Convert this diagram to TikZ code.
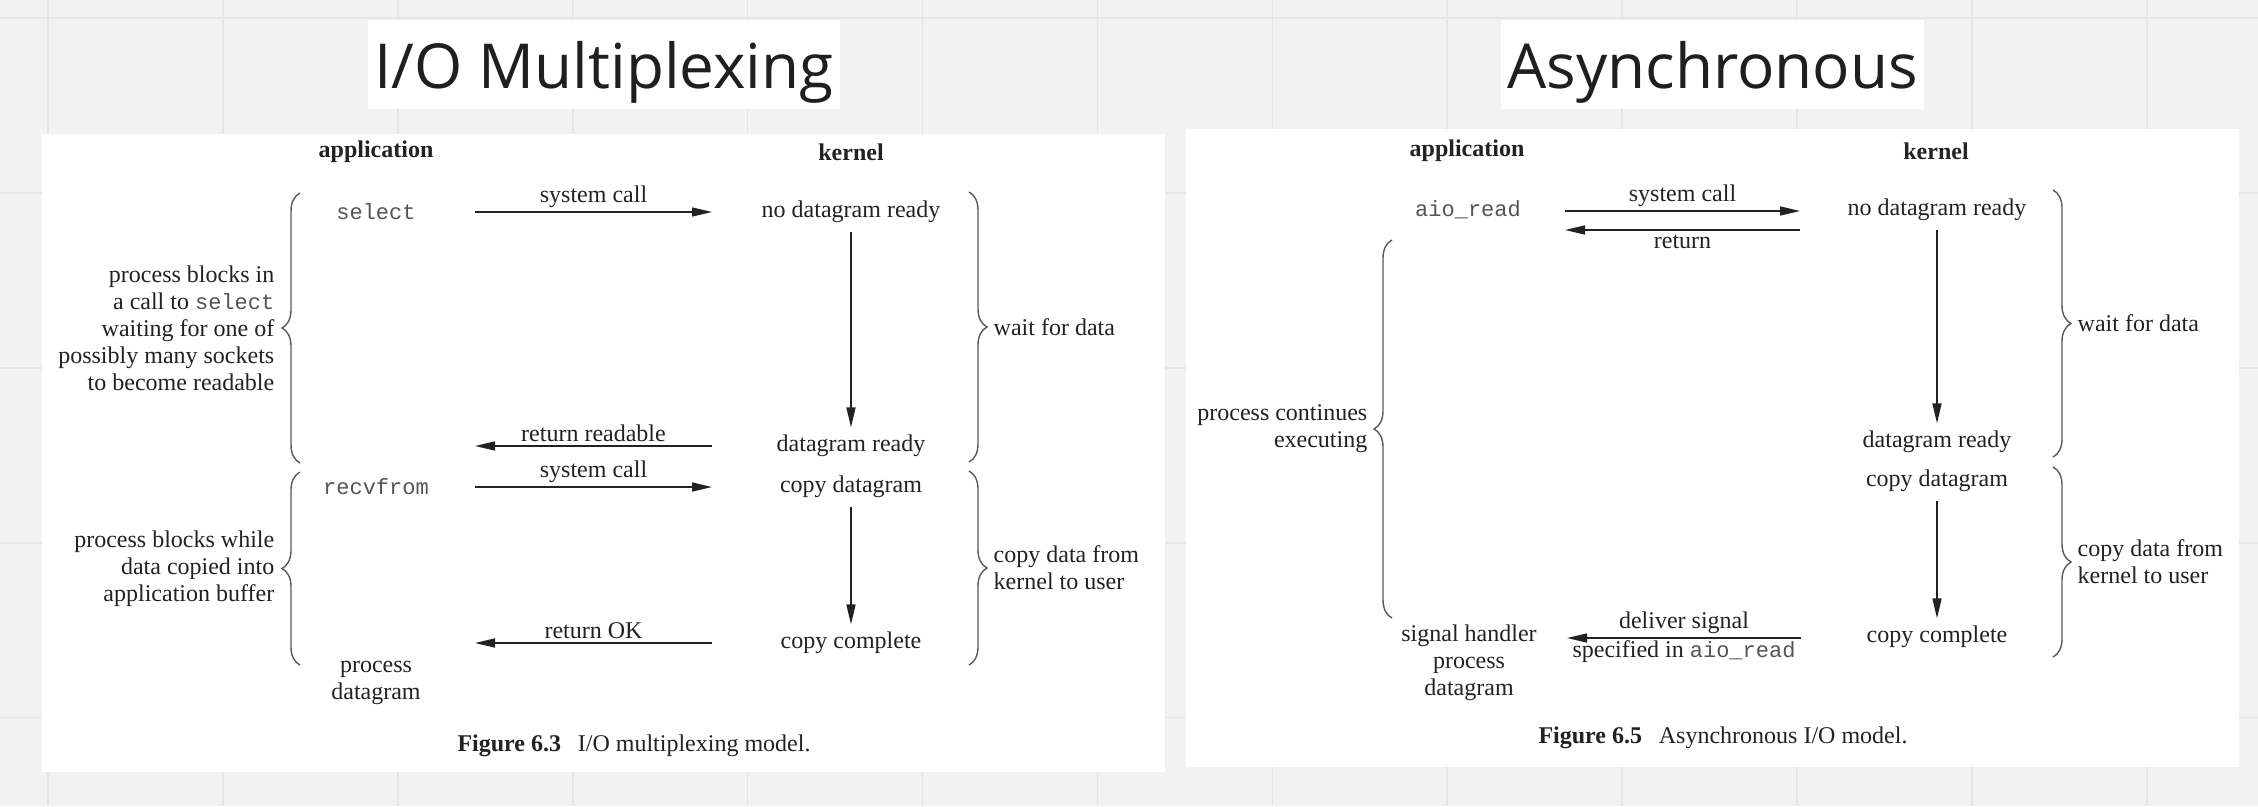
\documentclass[tikz,border=0pt]{standalone}
\usepackage{fontspec}
\setmainfont{Liberation Serif}
\setmonofont{Liberation Mono}
\newfontfamily\titlefont{Open Sans}
\definecolor{boardgray}{RGB}{242,242,242}
\definecolor{gridgray}{RGB}{229,229,229}
\definecolor{inkgray}{RGB}{34,34,34}
\definecolor{codegray}{RGB}{85,85,85}
\definecolor{bracegray}{RGB}{90,90,90}
\newcommand{\callname}[1]{{\fontsize{22}{27}\selectfont\ttfamily\color{codegray}#1}}
\usetikzlibrary{arrows.meta,calc,decorations.pathreplacing}

\begin{document}
\begin{tikzpicture}[x=1pt, y=-1pt,
    txt/.style={inner sep=0, text=inkgray, font=\fontsize{24}{27}\selectfont},
    head/.style={txt, font=\fontsize{24}{27}\selectfont\bfseries},
    code/.style={inner sep=0, text=codegray, font=\fontsize{22}{27}\selectfont\ttfamily},
    flow/.style={-{Triangle[length=20pt, width=9pt]}, line width=1.5pt, draw=inkgray},
    drop/.style={flow, shorten <=9pt, shorten >=7.5pt},
    curly/.style={decorate, decoration={brace, amplitude=18pt}, line width=1.4pt, draw=bracegray},
    titlebox/.style={fill=white, inner sep=0, minimum width=472pt, minimum height=89pt, text height=47pt, text depth=0pt, text=black!88, font=\titlefont\fontsize{62}{70}\selectfont},
    gridline/.style={draw=gridgray, line width=1.6pt}]
    \useasboundingbox (0,0) rectangle (2258,806);
    \fill[boardgray] (0,0) rectangle (2258,806);
    \foreach \gx in {0,...,12} \draw[gridline] (48+174.9*\gx,0) -- (48+174.9*\gx,806);
    \foreach \gy in {0,...,4} \draw[gridline] (0,18+174.9*\gy) -- (2258,18+174.9*\gy);
    \fill[white] (42,134) rectangle (1165,772);
    \fill[white] (1186,129) rectangle (2239,767);

    \node[titlebox] (ttlL) at (604,64.5) {I/O Multiplexing};
    \node[titlebox, minimum width=423pt] (ttlR) at (1712.5,64.5) {Asynchronous};

    \node[head] (appL) at (376,152) {application};
    \node[head] (kerL) at (851,152) {kernel};
    \node[code] (sel) at (376,212) {select};
    \node[txt] (ndr) at (851,212) {no datagram ready};
    \node[txt] (drdy) at (851,446) {datagram ready};
    \node[code] (rcv) at (376,487) {recvfrom};
    \node[txt] (cpdg) at (851,487) {copy datagram};
    \node[txt] (cpc) at (851,643) {copy complete};
    \node[txt, align=center] (pdg) at (376,683) {process\\datagram};
    \node[txt] (capL) at (634,746) {\textbf{Figure 6.3}\hspace{0.7em}I/O multiplexing model.};

    \draw[flow] ($(sel)+(99,0)$) -- node[txt, above=4pt] {system call} ($(ndr)+(-139,0)$);
    \draw[drop] (ndr) -- (drdy);
    \draw[flow] ($(drdy)+(-139,0)$) -- node[txt, above=4pt] {return readable} ($(drdy -| sel)+(99,0)$);
    \draw[flow] ($(rcv)+(99,0)$) -- node[txt, above=4pt] {system call} ($(cpdg)+(-139,0)$);
    \draw[drop] (cpdg) -- (cpc);
    \draw[flow] ($(cpc)+(-139,0)$) -- node[txt, above=4pt] {return OK} ($(cpc -| rcv)+(99,0)$);

    \draw[curly] (300,463) -- (300,193) node[midway, left=25pt, txt, align=right] {process blocks in\\a call to \callname{select}\\waiting for one of\\possibly many sockets\\to become readable};
    \draw[curly] (300,665) -- (300,472) node[midway, left=25pt, txt, align=right] {process blocks while\\data copied into\\application buffer};
    \draw[curly] (969,192) -- (969,462) node[midway, right=24pt, txt, align=left] {wait for data};
    \draw[curly] (969,471) -- (969,665) node[midway, right=24pt, txt, align=left] {copy data from\\kernel to user};

    \node[head] (appR) at (1467,151) {application};
    \node[head] (kerR) at (1936,151) {kernel};
    \node[code] (aio) at (1468,210) {aio\_read};
    \node[txt] (ndr2) at (1937,210) {no datagram ready};
    \node[txt] (drdy2) at (1937,442) {datagram ready};
    \node[txt] (cpdg2) at (1937,481) {copy datagram};
    \node[txt] (cpc2) at (1937,637) {copy complete};
    \node[txt, align=center] (sig) at (1469,663) {signal handler\\process\\datagram};
    \node[txt] (capR) at (1723,738) {\textbf{Figure 6.5}\hspace{0.7em}Asynchronous I/O model.};

    \draw[flow] ($(aio)+(97,1)$) -- node[txt, above=4pt] {system call} ($(ndr2)+(-137,1)$);
    \draw[flow] ($(ndr2)+(-137,20)$) -- node[txt, below=4pt] {return} ($(aio)+(97,20)$);
    \draw[drop] (ndr2) -- (drdy2);
    \draw[drop] (cpdg2) -- (cpc2);
    \draw[flow] ($(cpc2)+(-136,1)$) -- node[txt, above=4pt] {deliver signal} node[txt, below=2pt] {specified in \callname{aio\_read}} ($(cpc2 -| sig)+(98,1)$);

    \draw[curly] (1392,618) -- (1392,240) node[midway, left=24pt, txt, align=right] {process continues\\executing};
    \draw[curly] (2053,190) -- (2053,457) node[midway, right=24pt, txt, align=left] {wait for data};
    \draw[curly] (2053,467) -- (2053,657) node[midway, right=24pt, txt, align=left] {copy data from\\kernel to user};
\end{tikzpicture}
\end{document}
